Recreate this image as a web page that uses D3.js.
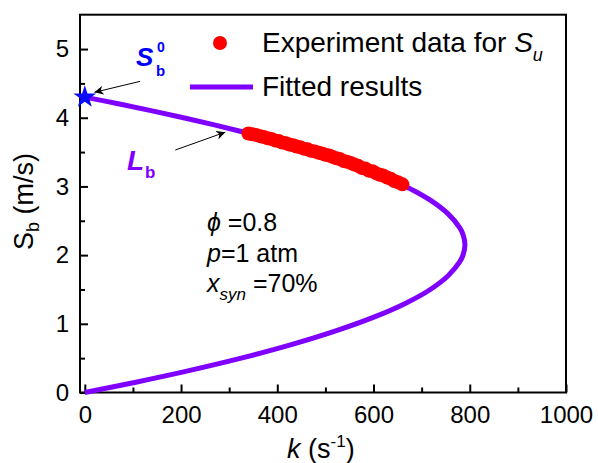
<!DOCTYPE html>
<html>
<head>
<meta charset="utf-8">
<title>Sb vs k</title>
<style>
  body { margin: 0; background: #fff; }
  svg { display: block; font-family: "Liberation Sans", Arial, sans-serif; }
  .frame { fill: none; stroke: #000; stroke-width: 2; }
  .axis path { display: none; }
  .axis line { stroke: #000; stroke-width: 2; }
  .axis text { font-size: 24px; fill: #000; font-family: "Liberation Sans", Arial, sans-serif; }
</style>
<script src="https://cdn.jsdelivr.net/npm/d3@7"></script>
</head>
<body>
<svg id="main" width="598" height="463"></svg>
<script>
// fitted curve (upper branch then lower branch)
let kFit = [0, 72, 140, 205, 267, 325, 379, 431, 478, 523, 602, 667, 718, 755, 779, 786, 790, 786, 779, 755, 718, 667, 602, 523, 431, 325, 205, 106, 0];
let sFit = [4.3, 4.2, 4.1, 4.0, 3.9, 3.8, 3.7, 3.6, 3.5, 3.4, 3.2, 3.0, 2.8, 2.6, 2.4, 2.3, 2.15, 2.0, 1.9, 1.7, 1.5, 1.3, 1.1, 0.9, 0.7, 0.5, 0.3, 0.15, 0];

// experiment points
let kExp = [340, 348, 356, 365, 372, 380, 388, 395, 403, 410, 418, 425, 433, 440, 448, 455, 463, 470, 478, 486, 493, 500, 508, 515, 523, 530, 538, 545, 553, 560, 568, 575, 583, 590, 598, 606, 613, 620, 628, 636, 643, 651, 660];
let sExp = [3.77, 3.76, 3.75, 3.73, 3.72, 3.70, 3.69, 3.67, 3.66, 3.64, 3.63, 3.61, 3.60, 3.58, 3.57, 3.55, 3.54, 3.52, 3.51, 3.49, 3.48, 3.46, 3.45, 3.43, 3.41, 3.40, 3.37, 3.36, 3.34, 3.32, 3.30, 3.27, 3.26, 3.23, 3.22, 3.19, 3.17, 3.16, 3.13, 3.11, 3.08, 3.06, 3.03];

// unstretched speed Sb0
let starK = [0];
let starS = [4.3];

let xMajor = [0, 200, 400, 600, 800, 1000];
let xMinor = [100, 300, 500, 700, 900];
let yMajor = [0, 1, 2, 3, 4, 5];
let yMinor = [0.5, 1.5, 2.5, 3.5, 4.5];

let purple = '#7f00ff';
let svg = d3.select('svg#main');

let x = d3.scaleLinear().domain([-10, 1000]).range([80, 566]);
let y = d3.scaleLinear().domain([0, 5.5]).range([392.5, 14.7]);
let fmt = d3.format('d');

// axes, ticks inward
svg.append('g').attr('class', 'axis')
    .attr('transform', 'translate(0,' + y(0) + ')')
    .call(d3.axisBottom(x).tickValues(xMajor).tickFormat(fmt).tickSizeInner(-8).tickSizeOuter(0).tickPadding(13));
svg.append('g').attr('class', 'axis')
    .attr('transform', 'translate(0,' + y(0) + ')')
    .call(d3.axisBottom(x).tickValues(xMinor).tickSizeInner(-5).tickSizeOuter(0).tickFormat(''));
svg.append('g').attr('class', 'axis')
    .attr('transform', 'translate(' + x.range()[0] + ',0)')
    .call(d3.axisLeft(y).tickValues(yMajor).tickFormat(fmt).tickSizeInner(-8).tickSizeOuter(0).tickPadding(11));
svg.append('g').attr('class', 'axis')
    .attr('transform', 'translate(' + x.range()[0] + ',0)')
    .call(d3.axisLeft(y).tickValues(yMinor).tickSizeInner(-5).tickSizeOuter(0).tickFormat(''));

svg.append('rect').attr('class', 'frame')
    .attr('x', x.range()[0]).attr('y', y.range()[1])
    .attr('width', x.range()[1] - x.range()[0])
    .attr('height', y.range()[0] - y.range()[1]);

// fitted curve
let line = d3.line()
    .x(d => x(d[0]))
    .y(d => y(d[1]))
    .curve(d3.curveCatmullRom);
svg.append('path')
    .datum(d3.zip(kFit, sFit))
    .attr('d', line)
    .attr('fill', 'none')
    .attr('stroke', purple)
    .attr('stroke-width', 5);

// experiment dots
svg.append('g').selectAll('circle')
    .data(d3.zip(kExp, sExp))
    .join('circle')
    .attr('cx', d => x(d[0]))
    .attr('cy', d => y(d[1]))
    .attr('r', 7)
    .attr('fill', '#ff0000');

// star
svg.append('g').selectAll('path')
    .data(d3.zip(starK, starS))
    .join('path')
    .attr('d', d3.symbol(d3.symbolStar, 160))
    .attr('transform', d => 'translate(' + x(d[0]) + ',' + y(d[1]) + ')')
    .attr('fill', '#0a0aff');

// arrows
svg.append('defs').append('marker')
    .attr('id', 'arr')
    .attr('viewBox', '0 0 10 10')
    .attr('refX', 10).attr('refY', 5)
    .attr('markerWidth', 9).attr('markerHeight', 9)
    .attr('markerUnits', 'userSpaceOnUse')
    .attr('orient', 'auto')
    .append('path').attr('d', 'M0,0L10,5L0,10L3,5Z').attr('fill', '#000');

let arrows = [
    [[115, 4.53], [20, 4.37]],
    [[188, 3.53], [292, 3.79]]
];
svg.append('g').selectAll('line')
    .data(arrows)
    .join('line')
    .attr('x1', d => x(d[0][0])).attr('y1', d => y(d[0][1]))
    .attr('x2', d => x(d[1][0])).attr('y2', d => y(d[1][1]))
    .attr('stroke', '#000').attr('stroke-width', 1)
    .attr('marker-end', 'url(#arr)');

// annotation labels
let sb0 = svg.append('g').attr('fill', '#0000ff').attr('font-weight', 'bold').attr('font-style', 'italic');
sb0.append('text').attr('x', 136).attr('y', 66).attr('font-size', 26).text('S');
sb0.append('text').attr('x', 156).attr('y', 76).attr('font-size', 15).attr('font-style', 'normal').text('b');
sb0.append('text').attr('x', 157).attr('y', 52).attr('font-size', 14).attr('font-style', 'normal').text('0');

let lb = svg.append('g').attr('fill', purple).attr('font-weight', 'bold').attr('font-style', 'italic');
lb.append('text').attr('x', 127).attr('y', 170).attr('font-size', 28).text('L');
lb.append('text').attr('x', 145).attr('y', 178).attr('font-size', 17).attr('font-style', 'normal').text('b');

// condition text
let cond = svg.append('g').attr('font-size', 25).attr('fill', '#000');
let t1 = cond.append('text').attr('x', 207).attr('y', 231);
t1.append('tspan').attr('font-style', 'italic').text('ϕ');
t1.append('tspan').text(' =0.8');
let t2 = cond.append('text').attr('x', 207).attr('y', 262);
t2.append('tspan').attr('font-style', 'italic').text('p');
t2.append('tspan').text('=1 atm');
let t3 = cond.append('text').attr('x', 207).attr('y', 292);
t3.append('tspan').attr('font-style', 'italic').text('x');
t3.append('tspan').attr('font-style', 'italic').attr('font-size', 17).attr('dy', 8).text('syn');
t3.append('tspan').attr('dy', -8).text(' =70%');

// legend
let leg = svg.append('g').attr('font-size', 28).attr('fill', '#000');
leg.append('circle').attr('cx', 220).attr('cy', 43).attr('r', 7).attr('fill', '#ff0000');
let l1 = leg.append('text').attr('x', 262).attr('y', 52);
l1.append('tspan').text('Experiment data for ');
l1.append('tspan').attr('font-style', 'italic').text('S');
l1.append('tspan').attr('font-style', 'italic').attr('font-size', 18).attr('dy', 9).text('u');
leg.append('line').attr('x1', 190).attr('x2', 253).attr('y1', 87).attr('y2', 87)
    .attr('stroke', purple).attr('stroke-width', 5);
leg.append('text').attr('x', 262).attr('y', 96).text('Fitted results');

// axis titles
let xt = svg.append('text').attr('x', 287).attr('y', 458).attr('font-size', 27).attr('fill', '#000');
xt.append('tspan').attr('font-style', 'italic').text('k');
xt.append('tspan').text('  (s');
xt.append('tspan').attr('font-size', 17).attr('dy', -11).text('-1');
xt.append('tspan').attr('dy', 11).text(')');

let yt = svg.append('text').attr('transform', 'translate(33,250) rotate(-90)')
    .attr('font-size', 27).attr('fill', '#000');
yt.append('tspan').text('S');
yt.append('tspan').attr('font-size', 18).attr('dy', 6).text('b');
yt.append('tspan').attr('dy', -6).text(' (m/s)');
</script>
</body>
</html>
